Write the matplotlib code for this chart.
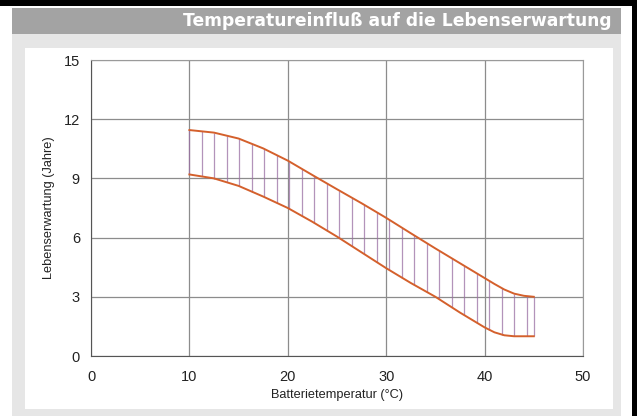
import matplotlib.pyplot as plt
import numpy as np
from matplotlib.patches import Rectangle

temps = [10, 12.5, 15, 17.5, 20, 22.5, 25, 27.5, 30, 32.5, 35, 37.5, 40, 41, 42, 43, 44, 45]
life_upper = [11.45, 11.32, 11.02, 10.52, 9.9, 9.17, 8.45, 7.74, 7.0, 6.22, 5.45, 4.7,
              3.95, 3.65, 3.37, 3.16, 3.05, 3.0]
life_lower = [9.2, 9.0, 8.62, 8.08, 7.5, 6.8, 6.05, 5.25, 4.45, 3.7, 3.0, 2.2,
              1.45, 1.2, 1.05, 1.0, 1.0, 1.0]
x_ticks = [0, 10, 20, 30, 40, 50]
y_ticks = [0, 3, 6, 9, 12, 15]
title = "Temperatureinfluß auf die Lebenserwartung"
x_label = "Batterietemperatur (°C)"
y_label = "Lebenserwartung (Jahre)"

W, H = 637, 416
plt.rcParams["font.family"] = ["Liberation Sans", "DejaVu Sans"]

fig = plt.figure(figsize=(W / 100, H / 100), dpi=100)
fig.patch.set_facecolor("white")


def box(x0, y0, x1, y1, color):
    # pixel box (top-left origin) -> figure coords
    fig.patches.append(Rectangle((x0 / W, 1 - y1 / H), (x1 - x0) / W, (y1 - y0) / H,
                                 transform=fig.transFigure, facecolor=color,
                                 edgecolor="none", zorder=-5))


box(0, 0, W, 6, "black")
box(632, 0, W, H, "black")
box(12, 8, 621, 34, "#a3a3a3")
box(12, 34, 621, 416, "#e6e6e6")
box(25, 48, 613, 409, "white")

fig.text(612 / W, 1 - 21 / H, title, ha="right", va="center", color="white",
         fontsize=12.3, fontweight="bold", family=["DejaVu Sans"])

ax = fig.add_axes([91 / W, 1 - 356 / H, (583 - 91) / W, (356 - 60) / H])
ax.set_zorder(2)
ax.set_xlim(0, 50)
ax.set_ylim(0, 15)
ax.set_xticks(x_ticks)
ax.set_yticks(y_ticks)
ax.tick_params(length=0, labelsize=10.5, colors="#222222")
ax.tick_params(axis="x", pad=10)
ax.tick_params(axis="y", pad=8)
ax.grid(color="#8c8c8c", linewidth=0.9)
ax.set_axisbelow(True)
for side in ["left", "bottom"]:
    ax.spines[side].set_color("#555555")
for side in ["top", "right"]:
    ax.spines[side].set_color("#9a9a9a")
ax.set_xlabel(x_label, fontsize=9.2, color="#222222", labelpad=4)
ax.set_ylabel(y_label, fontsize=9.2, color="#222222", labelpad=6)

hx = np.append(np.arange(10, 45, 1.27), 45)
ax.vlines(hx, np.interp(hx, temps, life_lower), np.interp(hx, temps, life_upper),
          color="#9a6fa3", linewidth=0.9, alpha=0.75, zorder=2)
ax.plot(temps, life_upper, color="#d4602c", linewidth=1.4, zorder=3)
ax.plot(temps, life_lower, color="#d4602c", linewidth=1.4, zorder=3)

fig.savefig("out.png", dpi=100)
